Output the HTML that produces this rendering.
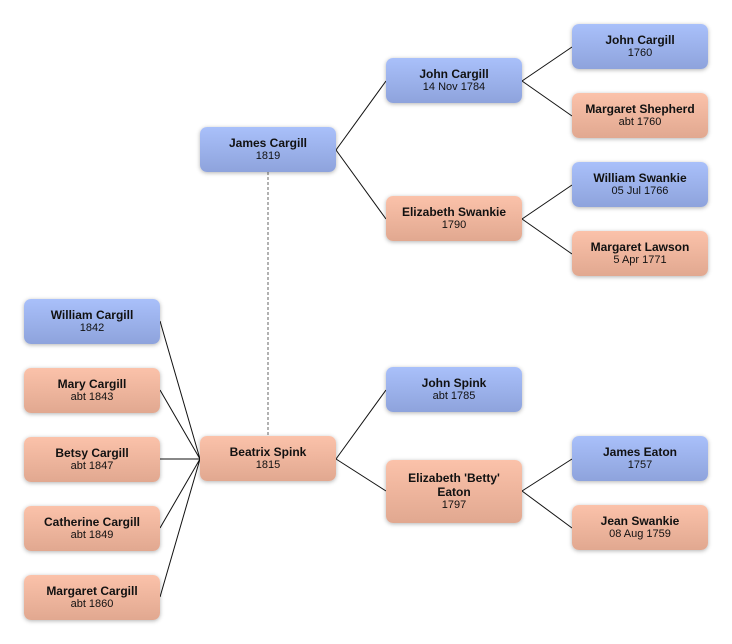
<!DOCTYPE html>
<html><head><meta charset="utf-8"><style>
body{margin:0;width:732px;height:644px;background:#fff;position:relative;font-family:"Liberation Sans",sans-serif;overflow:hidden}
.b{position:absolute;width:136px;height:45px;border-radius:7px;box-shadow:0 1px 4px rgba(0,0,0,.3);text-align:center;display:flex;flex-direction:column;justify-content:center;color:#111}
.m{background:linear-gradient(#a9c0fa,#8ea3dc)}
.f{background:linear-gradient(#fbc2aa,#e1a890)}
.n{font-weight:bold;font-size:12px;line-height:14px}
.d{font-size:11px;line-height:13px}
svg{position:absolute;left:0;top:0}
</style></head><body>
<svg width="732" height="644">
<g stroke="#111" stroke-width="1" fill="none">
<path d="M336 150L386 81M336 150L386 219M522 81L572 47M522 81L572 116M522 219L572 185M522 219L572 254M336 459L386 390M336 459L386 491M522 491L572 459M522 491L572 528"/>
<path d="M160 321L200 459M160 390L200 459M160 459L200 459M160 528L200 459M160 597L200 459"/>
<path d="M268 172V436" stroke="#666" stroke-dasharray="3,2"/>
</g></svg>
<div class="b m" style="left:200px;top:127px"><div class="n">James Cargill</div><div class="d">1819</div></div>
<div class="b m" style="left:386px;top:58px"><div class="n">John Cargill</div><div class="d">14 Nov 1784</div></div>
<div class="b f" style="left:386px;top:196px"><div class="n">Elizabeth Swankie</div><div class="d">1790</div></div>
<div class="b m" style="left:572px;top:24px"><div class="n">John Cargill</div><div class="d">1760</div></div>
<div class="b f" style="left:572px;top:93px"><div class="n">Margaret Shepherd</div><div class="d">abt 1760</div></div>
<div class="b m" style="left:572px;top:162px"><div class="n">William Swankie</div><div class="d">05 Jul 1766</div></div>
<div class="b f" style="left:572px;top:231px"><div class="n">Margaret Lawson</div><div class="d">5 Apr 1771</div></div>
<div class="b f" style="left:200px;top:436px"><div class="n">Beatrix Spink</div><div class="d">1815</div></div>
<div class="b m" style="left:386px;top:367px"><div class="n">John Spink</div><div class="d">abt 1785</div></div>
<div class="b f" style="left:386px;top:460px;height:63px"><div class="n">Elizabeth 'Betty'<br>Eaton</div><div class="d">1797</div></div>
<div class="b m" style="left:572px;top:436px"><div class="n">James Eaton</div><div class="d">1757</div></div>
<div class="b f" style="left:572px;top:505px"><div class="n">Jean Swankie</div><div class="d">08 Aug 1759</div></div>
<div class="b m" style="left:24px;top:299px"><div class="n">William Cargill</div><div class="d">1842</div></div>
<div class="b f" style="left:24px;top:368px"><div class="n">Mary Cargill</div><div class="d">abt 1843</div></div>
<div class="b f" style="left:24px;top:437px"><div class="n">Betsy Cargill</div><div class="d">abt 1847</div></div>
<div class="b f" style="left:24px;top:506px"><div class="n">Catherine Cargill</div><div class="d">abt 1849</div></div>
<div class="b f" style="left:24px;top:575px"><div class="n">Margaret Cargill</div><div class="d">abt 1860</div></div>
</body></html>
